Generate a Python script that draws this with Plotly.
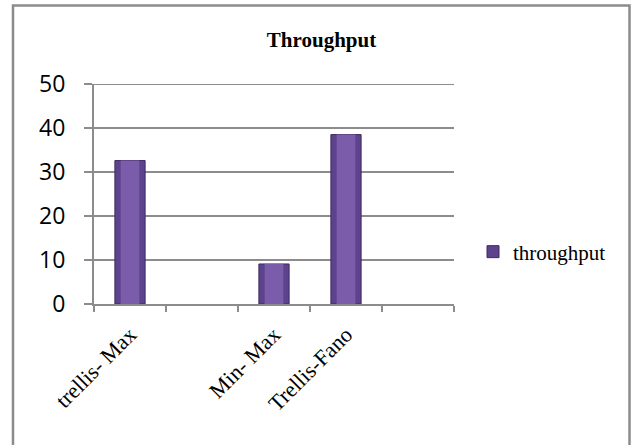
import plotly.graph_objects as go

# Throughput per decoding scheme (two unused category slots kept on the axis)
categories = ["trellis- Max", " ", "Min- Max", "Trellis-Fano", "  "]
throughput = [32.6, None, 9.1, 38.5, None]
y_ticks = [0, 10, 20, 30, 40, 50]

W, H = 631, 445
L, R, T, B = 94, 177, 84, 141
plot_w, plot_h = W - L - R, H - T - B


def px_to_paper_x(px):
    return (px - L) / plot_w


def px_to_paper_y(py):
    return (H - B - py) / plot_h


GRID = "#8c8c8c"
BAR_W = 0.42

fig = go.Figure()
# darker outer body of each bar
fig.add_trace(go.Bar(
    x=categories,
    y=throughput,
    name="throughput",
    width=BAR_W,
    marker=dict(color="#5d428c", line=dict(color="#3f2b62", width=1)),
))
# lighter core for a rounded, shaded look
fig.add_trace(go.Bar(
    x=categories,
    y=throughput,
    name="throughput",
    width=BAR_W * 0.62,
    showlegend=False,
    hoverinfo="skip",
    marker=dict(color="#7a5cab", line=dict(width=0)),
))

fig.update_layout(
    width=W,
    height=H,
    margin=dict(l=L, r=R, t=T, b=B, autoexpand=False),
    paper_bgcolor="white",
    plot_bgcolor="white",
    barmode="overlay",
    title=dict(
        text="<b>Throughput</b>",
        font=dict(family="Liberation Serif", size=21, color="black"),
        x=321.5 / W, xref="container", xanchor="center",
        y=1 - 40 / H, yref="container", yanchor="middle",
    ),
    showlegend=True,
    legend=dict(
        x=px_to_paper_x(473), xanchor="left",
        y=px_to_paper_y(252), yanchor="middle",
        font=dict(family="Liberation Serif", size=21, color="black"),
        bgcolor="rgba(0,0,0,0)",
        itemwidth=30,
    ),
    xaxis=dict(
        type="category",
        categoryorder="array",
        categoryarray=categories,
        tickangle=-45,
        tickson="boundaries",
        ticks="outside",
        ticklen=6,
        tickwidth=2,
        tickcolor=GRID,
        showline=True,
        linecolor=GRID,
        linewidth=2,
        showgrid=False,
        tickfont=dict(family="Liberation Serif", size=22, color="black"),
        ticklabelstandoff=7,
    ),
    yaxis=dict(
        range=[y_ticks[0], y_ticks[-1]],
        tickvals=y_ticks,
        ticks="outside",
        ticklen=8,
        tickwidth=2,
        tickcolor=GRID,
        showline=True,
        linecolor=GRID,
        linewidth=2,
        showgrid=True,
        gridcolor=GRID,
        gridwidth=2,
        zeroline=False,
        tickfont=dict(family="Open Sans", size=23, color="black"),
        ticklabelstandoff=14,
    ),
    shapes=[
        # outer chart frame
        dict(
            type="rect", xref="paper", yref="paper",
            x0=px_to_paper_x(13), x1=px_to_paper_x(629.5),
            y0=px_to_paper_y(470), y1=px_to_paper_y(5.5),
            line=dict(color=GRID, width=2.5),
            fillcolor="rgba(0,0,0,0)",
            layer="below",
        ),
        # gridline at the top of the value range
        dict(
            type="line", xref="paper", yref="y",
            x0=0, x1=1, y0=y_ticks[-1], y1=y_ticks[-1],
            line=dict(color=GRID, width=2),
            layer="below",
        ),
    ],
)

fig.write_html("out.html")
